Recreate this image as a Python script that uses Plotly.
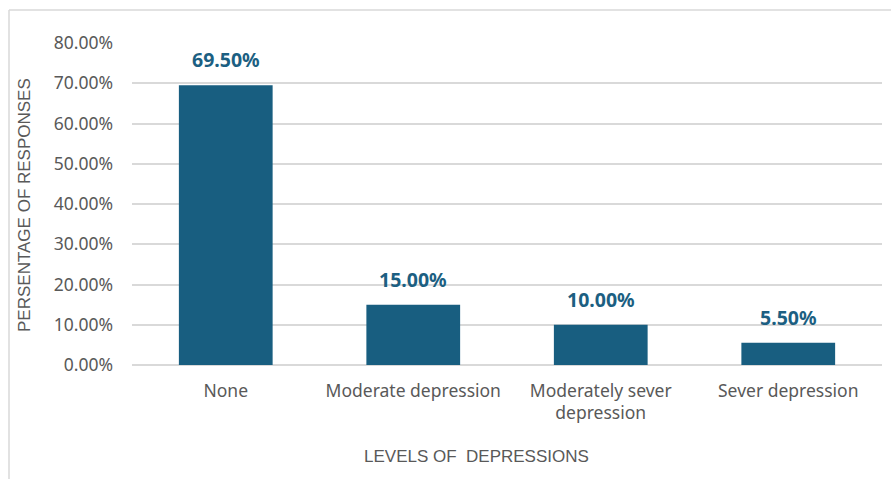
import plotly.graph_objects as go

categories = ["None", "Moderate depression", "Moderately sever<br>depression", "Sever depression"]
values = [0.695, 0.15, 0.10, 0.055]
value_labels = ["69.50%", "15.00%", "10.00%", "5.50%"]
y_ticks = [0, 0.1, 0.2, 0.3, 0.4, 0.5, 0.6, 0.7, 0.8]

W, H = 891, 479
ML, MR, MT, MB = 132, 9, 43, 114

bar_color = "#185E80"
label_color = "#1C5F82"
text_grey = "#595959"
grid_grey = "#D9D9D9"
font_family = "Noto Sans, Liberation Sans, Arial, sans-serif"
title_family = "Liberation Sans, Arial, sans-serif"

fig = go.Figure(
    go.Bar(
        x=categories,
        y=values,
        marker=dict(color=bar_color, line=dict(width=0)),
        hoverinfo="x+y",
    )
)

pw = W - ML - MR
ph = H - MT - MB

def px_x(px):
    return (px - ML) / pw

def px_y(py):
    return (H - MB - py) / ph

# value labels above each bar
label_annotations = [
    dict(
        x=cat, y=val, xref="x", yref="y",
        text=f"<b>{lab}</b>",
        showarrow=False,
        yanchor="bottom",
        yshift=10,
        font=dict(size=19.5, color=label_color, family=font_family),
    )
    for cat, val, lab in zip(categories, values, value_labels)
]

fig.update_layout(
    width=W,
    height=H,
    margin=dict(l=ML, r=MR, t=MT, b=MB, pad=0),
    paper_bgcolor="white",
    plot_bgcolor="white",
    bargap=0.5,
    showlegend=False,
    font=dict(family=font_family, color=text_grey, size=17),
    xaxis=dict(
        showgrid=False,
        showline=False,
        zeroline=False,
        ticks="",
        tickfont=dict(size=17.5, color=text_grey),
        ticklabelstandoff=13,
    ),
    yaxis=dict(
        range=[0, 0.8],
        tickvals=y_ticks,
        tickformat=".2%",
        showgrid=True,
        gridcolor=grid_grey,
        gridwidth=1.5,
        zeroline=True,
        zerolinecolor=grid_grey,
        zerolinewidth=1.5,
        showline=False,
        ticks="",
        ticklabelstandoff=18,
        tickfont=dict(size=17.5, color=text_grey),
    ),
    annotations=label_annotations + [
        dict(
            text="PERSENTAGE OF RESPONSES",
            xref="paper", yref="paper",
            x=px_x(25), y=px_y(205),
            textangle=-90,
            showarrow=False,
            font=dict(size=17, color=text_grey, family=title_family),
            xanchor="center", yanchor="middle",
        ),
        dict(
            text="LEVELS OF  DEPRESSIONS",
            xref="paper", yref="paper",
            x=px_x(476), y=px_y(457),
            showarrow=False,
            font=dict(size=17, color=text_grey, family=title_family),
            xanchor="center", yanchor="middle",
        ),
    ],
    shapes=[
        dict(type="line", xref="paper", yref="paper",
             x0=px_x(9), x1=px_x(W + 5), y0=px_y(10), y1=px_y(10),
             line=dict(color="#D9D9D9", width=1.5)),
        dict(type="line", xref="paper", yref="paper",
             x0=px_x(9), x1=px_x(9), y0=px_y(10), y1=px_y(H + 5),
             line=dict(color="#D9D9D9", width=1.5)),
    ],
)

fig.write_html("out.html")
